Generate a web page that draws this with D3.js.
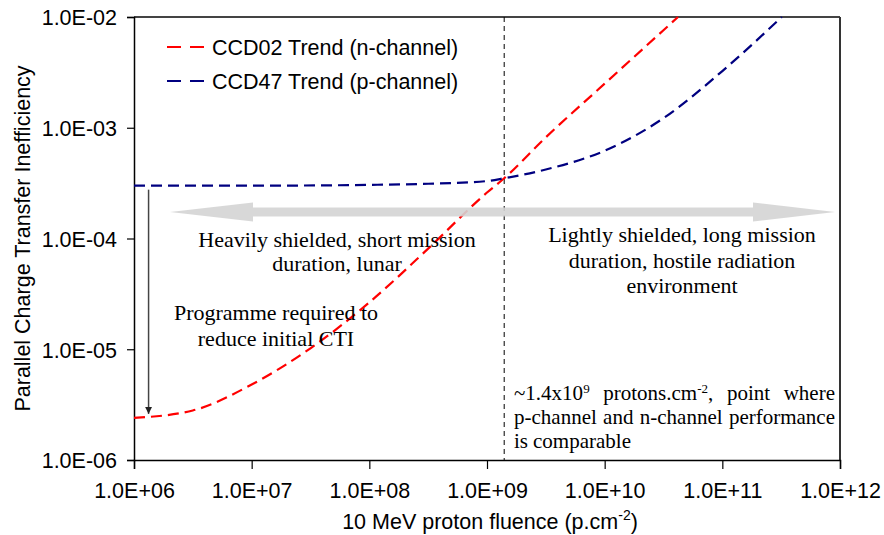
<!DOCTYPE html>
<html>
<head>
<meta charset="utf-8">
<script src="https://cdn.jsdelivr.net/npm/d3@7"></script>
<style>
  body { margin: 0; background: #fff; }
  svg { display: block; }
  .axis text { font-family: "Liberation Sans", Arial, sans-serif; font-size: 21.5px; fill: #000; }
  .note { font-family: "Liberation Serif", "Times New Roman", serif; font-size: 22px; fill: #000; }
  .note.small { font-size: 21px; }
</style>
</head>
<body>
<svg id="chart" width="884" height="535"></svg>
<script>
// Valeurs (fluence en p/cm2, CTI)
const ccd02Fluence = [1e6, 3.16e6, 1e7, 3.16e7, 1e8, 3.16e8, 1e9, 1.4e9, 3.16e9, 1e10, 3.16e10, 4.2e10];
const ccd02Cti     = [2.4e-6, 2.8e-6, 4.8e-6, 1.02e-5, 2.65e-5, 8.1e-5, 2.6e-4, 3.5e-4, 8.2e-4, 2.5e-3, 7.6e-3, 1e-2];
const ccd47Fluence = [1e6, 1e7, 1e8, 3.16e8, 1e9, 1.4e9, 3.16e9, 1e10, 3.16e10, 1e11, 3.2e11];
const ccd47Cti     = [3.0e-4, 3.0e-4, 3.05e-4, 3.12e-4, 3.3e-4, 3.5e-4, 4.2e-4, 6.2e-4, 1.22e-3, 3.25e-3, 1e-2];
const xTicks = [1e6, 1e7, 1e8, 1e9, 1e10, 1e11, 1e12];
const yTicks = [1e-6, 1e-5, 1e-4, 1e-3, 1e-2];
const seriesNames = ["CCD02 Trend (n-channel)", "CCD47 Trend (p-channel)"];
const seriesColors = ["#ff0000", "#000080"];
const crossFluence = 1.4e9;

const margin = {top: 17, right: 44, bottom: 75, left: 134};
const width = 884 - margin.left - margin.right;
const height = 535 - margin.top - margin.bottom;

const svg = d3.select("#chart");
const g = svg.append("g").attr("transform", `translate(${margin.left},${margin.top})`);

const x = d3.scaleLog().domain([1e6, 1e12]).range([0, width]);
const y = d3.scaleLog().domain([1e-6, 1e-2]).range([height, 0]);

// format 1.0E+06 / 1.0E-02
const fmtExp = v => {
  const e = Math.round(Math.log10(v));
  const s = e < 0 ? "-" : "+";
  return "1.0E" + s + String(Math.abs(e)).padStart(2, "0");
};

// cadre haut et droite
g.append("line").attr("x1", 0).attr("x2", width).attr("y1", 0).attr("y2", 0)
  .attr("stroke", "#444").attr("stroke-width", 2);
g.append("line").attr("x1", width).attr("x2", width).attr("y1", 0).attr("y2", height)
  .attr("stroke", "#333").attr("stroke-width", 2);

// axes
const xAxis = g.append("g").attr("class", "axis")
  .attr("transform", `translate(0,${height})`)
  .call(d3.axisBottom(x).tickValues(xTicks).tickFormat(fmtExp).tickSize(9).tickPadding(14));
const yAxis = g.append("g").attr("class", "axis")
  .call(d3.axisLeft(y).tickValues(yTicks).tickFormat(fmtExp).tickSize(7).tickPadding(10));
[xAxis, yAxis].forEach(a => {
  a.select(".domain").attr("stroke", "#000").attr("stroke-width", 1.5);
  a.selectAll(".tick line").attr("stroke", "#000").attr("stroke-width", 1.2);
});
yAxis.selectAll(".tick text").attr("dy", "0.36em");

// titres d'axes
const xTitle = svg.append("text")
  .attr("x", margin.left + width / 2 + 3).attr("y", 529)
  .attr("text-anchor", "middle")
  .style("font-family", "Liberation Sans, Arial, sans-serif").style("font-size", "21.5px");
xTitle.append("tspan").text("10 MeV proton fluence (p.cm");
xTitle.append("tspan").attr("dy", -9).style("font-size", "14px").text("-2");
xTitle.append("tspan").attr("dy", 9).text(")");

svg.append("text")
  .attr("transform", `translate(30,${margin.top + height / 2}) rotate(-90)`)
  .attr("text-anchor", "middle")
  .style("font-family", "Liberation Sans, Arial, sans-serif").style("font-size", "21.5px")
  .text("Parallel Charge Transfer Inefficiency");

// ligne verticale du point de croisement
g.append("line")
  .attr("x1", x(crossFluence)).attr("x2", x(crossFluence))
  .attr("y1", 0).attr("y2", height)
  .attr("stroke", "#000").attr("stroke-width", 1).attr("stroke-dasharray", "5,4");

// courbes
const line = d3.line()
  .x(d => x(d[0]))
  .y(d => y(d[1]))
  .curve(d3.curveMonotoneX);

const series = [
  d3.zip(ccd02Fluence, ccd02Cti),
  d3.zip(ccd47Fluence, ccd47Cti)
];

g.selectAll("path.trend")
  .data(series)
  .enter().append("path")
  .attr("class", "trend")
  .attr("d", line)
  .attr("fill", "none")
  .attr("stroke", (d, i) => seriesColors[i])
  .attr("stroke-width", 2.2)
  .attr("stroke-dasharray", "11,6");

// grande flèche grise double
const ay = 195, sh = 4.5, hh = 9.5, lx0 = 36, lx1 = 119, rx0 = 619, rx1 = 701;
g.append("path")
  .attr("d", `M${lx0},${ay} L${lx1},${ay - hh} L${lx1},${ay - sh} L${rx0},${ay - sh} L${rx0},${ay - hh}
              L${rx1},${ay} L${rx0},${ay + hh} L${rx0},${ay + sh} L${lx1},${ay + sh} L${lx1},${ay + hh} Z`)
  .attr("fill", "#d4d4d4").attr("opacity", 0.9);

// flèche noire verticale (réduction du CTI initial)
svg.append("defs").append("marker")
  .attr("id", "head").attr("viewBox", "0 0 10 10")
  .attr("refX", 10).attr("refY", 5)
  .attr("markerWidth", 7).attr("markerHeight", 7)
  .attr("markerUnits", "userSpaceOnUse")
  .attr("orient", "auto")
  .append("path").attr("d", "M0,0 L10,5 L0,10 Z").attr("fill", "#222");
g.append("line")
  .attr("x1", x(1.33e6)).attr("x2", x(1.33e6))
  .attr("y1", y(ccd47Cti[0]) + 4).attr("y2", y(ccd02Cti[0]) - 4)
  .attr("stroke", "#444").attr("stroke-width", 1.5)
  .attr("marker-end", "url(#head)");

// légende
const legend = g.selectAll(".legend")
  .data(seriesNames)
  .enter().append("g")
  .attr("class", "legend")
  .attr("transform", (d, i) => `translate(33,${30 + i * 34})`);
legend.append("line")
  .attr("x1", 0).attr("x2", 37)
  .attr("stroke", (d, i) => seriesColors[i])
  .attr("stroke-width", 2.2)
  .attr("stroke-dasharray", "14,9");
legend.append("text")
  .attr("x", 45).attr("y", 0).attr("dy", "0.36em")
  .style("font-family", "Liberation Sans, Arial, sans-serif").style("font-size", "21.5px")
  .text(d => d);

// annotations
const notes = [
  {x: 337, y: 247, lines: ["Heavily shielded, short mission", "duration, lunar"], lh: 24},
  {x: 682, y: 242, lines: ["Lightly shielded, long mission", "duration, hostile radiation", "environment"], lh: 25.5},
  {x: 276, y: 320, lines: ["Programme required to", "reduce initial CTI"], lh: 26}
];
notes.forEach(n => {
  n.lines.forEach((t, i) => {
    svg.append("text").attr("class", "note")
      .attr("x", n.x).attr("y", n.y + i * n.lh)
      .attr("text-anchor", "middle")
      .text(t);
  });
});

// texte justifié en bas à droite
const jx0 = 514, jx1 = 835;
const jLines = [
  {y: 400, words: [[["~1.4x10", 0], ["9", 1]], [["protons.cm", 0], ["-2", 1], [",", 0]], [["point", 0]], [["where", 0]]]},
  {y: 424, words: [[["p-channel", 0]], [["and", 0]], [["n-channel", 0]], [["performance", 0]]]},
  {y: 448, words: [[["is", 0]], [["comparable", 0]]], left: true}
];
jLines.forEach(l => {
  const nodes = l.words.map(w => {
    const t = svg.append("text").attr("class", "note small").attr("y", l.y);
    w.forEach(([s, sup]) => {
      if (sup) t.append("tspan").attr("baseline-shift", "7").style("font-size", "13px").text(s);
      else t.append("tspan").attr("baseline-shift", "0").text(s);
    });
    return t;
  });
  const widths = nodes.map(t => t.node().getComputedTextLength());
  const gap = l.left ? 5 : (jx1 - jx0 - d3.sum(widths)) / (nodes.length - 1);
  let cx = jx0;
  nodes.forEach((t, i) => { t.attr("x", cx); cx += widths[i] + gap; });
});
</script>
</body>
</html>
